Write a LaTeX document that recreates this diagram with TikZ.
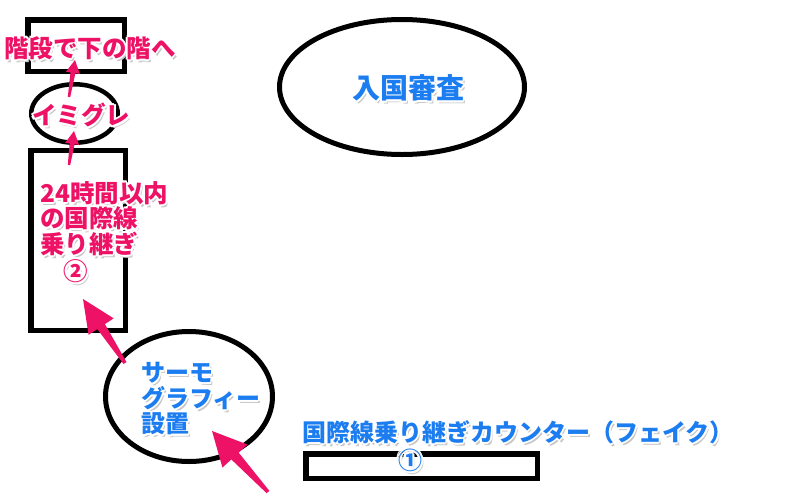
\documentclass[tikz,border=0pt]{standalone}
\usepackage{fontspec}
\setmainfont{Noto Sans CJK JP}
\usetikzlibrary{shapes.geometric,calc}
\definecolor{pinkc}{RGB}{238,18,102}
\definecolor{bluec}{RGB}{28,125,240}
\tikzset{
  boxshape/.style={draw=black,line width=5.5pt,rectangle,inner sep=0pt},
  ellshape/.style={draw=black,line width=5pt,ellipse,inner sep=0pt},
  pinktext/.style={text=pinkc,font=\fontsize{24.5}{25.5}\selectfont\bfseries,inner sep=0pt,align=left},
  bluetext/.style={text=bluec,font=\fontsize{24}{25.5}\selectfont\bfseries,inner sep=0pt,align=left},
}
\newcommand\skarrow[6]{%
  \coordinate (skb) at ($(#2)!#3!(#1)$);
  \fill[pinkc] ($(#1)!#6!90:(#2)$) -- ($(skb)!#5!-90:(#1)$) -- ($(skb)!#4!-90:(#1)$) -- (#2)
    -- ($(skb)!#4!90:(#1)$) -- ($(skb)!#5!90:(#1)$) -- ($(#1)!#6!-90:(#2)$) -- cycle;
}
% text with soft shadow and white halo
\newcommand\halonode[4]{%
  \node[#1,text=black!22] at ($(#3)+(2.2,3)$) {#4};
  \foreach \hx/\hy in {2/0,-2/0,0/2,0/-2,1.5/1.5,1.5/-1.5,-1.5/1.5,-1.5/-1.5}
    {\node[#1,text=white] at ($(#3)+(\hx,\hy)$) {#4};}
  \node[#1] (#2) at (#3) {#4};
}
\begin{document}
\begin{tikzpicture}[x=1pt,y=-1pt]
\useasboundingbox (0,0) rectangle (800,501);
% shapes
\node[boxshape,minimum width=96.5pt,minimum height=51.5pt] (stairs) at (76,45.5) {};
\node[ellshape,line width=4.5pt,minimum width=86.5pt,minimum height=58.5pt] (immig) at (74.5,113.5) {};
\node[boxshape,minimum width=94.5pt,minimum height=180pt] (transfer) at (78,240.5) {};
\node[ellshape,minimum width=245pt,minimum height=135pt] (entry) at (402,87) {};
\node[ellshape,minimum width=167pt,minimum height=130pt] (thermo) at (189,396.5) {};
\node[boxshape,minimum width=231.5pt,minimum height=24.5pt] (counter) at (421.5,466) {};
\fill (124,202) circle (1.3pt);
% arrow end points
\coordinate (a1t) at (69,97);  \coordinate (a1h) at (75,60);
\coordinate (a2t) at (69,165); \coordinate (a2h) at (74,131);
\coordinate (a3t) at (125,363); \coordinate (a3h) at (83,299);
\coordinate (a4t) at (268,492); \coordinate (a4h) at (212,431);
\skarrow{a1t}{a1h}{13pt}{7pt}{2.5pt}{1.2pt}
\skarrow{a2t}{a2h}{13pt}{7pt}{2.5pt}{1.2pt}
\skarrow{a3t}{a3h}{33pt}{15pt}{4.5pt}{1.8pt}
\skarrow{a4t}{a4h}{34pt}{17pt}{5pt}{1.8pt}
% texts
\halonode{pinktext,anchor=west}{tstairs}{4,48}{階段で下の階へ}
\halonode{pinktext,anchor=west}{timmig}{32,115}{イミグレ}
\halonode{pinktext,anchor=north west}{ttransfer}{40,181}{24時間以内\\の国際線\\乗り継ぎ}
\halonode{pinktext}{two}{76,271}{②}
\halonode{bluetext,font=\fontsize{28}{30}\selectfont\bfseries}{tentry}{408,88}{入国審査}
\halonode{bluetext,anchor=north west}{tthermo}{141,362}{サーモ\\グラフィー\\設置}
\halonode{bluetext,anchor=west}{tcounter}{302,432}{国際線乗り継ぎカウンター（フェイク）}
\halonode{bluetext}{one}{410,460}{①}
\end{tikzpicture}
\end{document}
